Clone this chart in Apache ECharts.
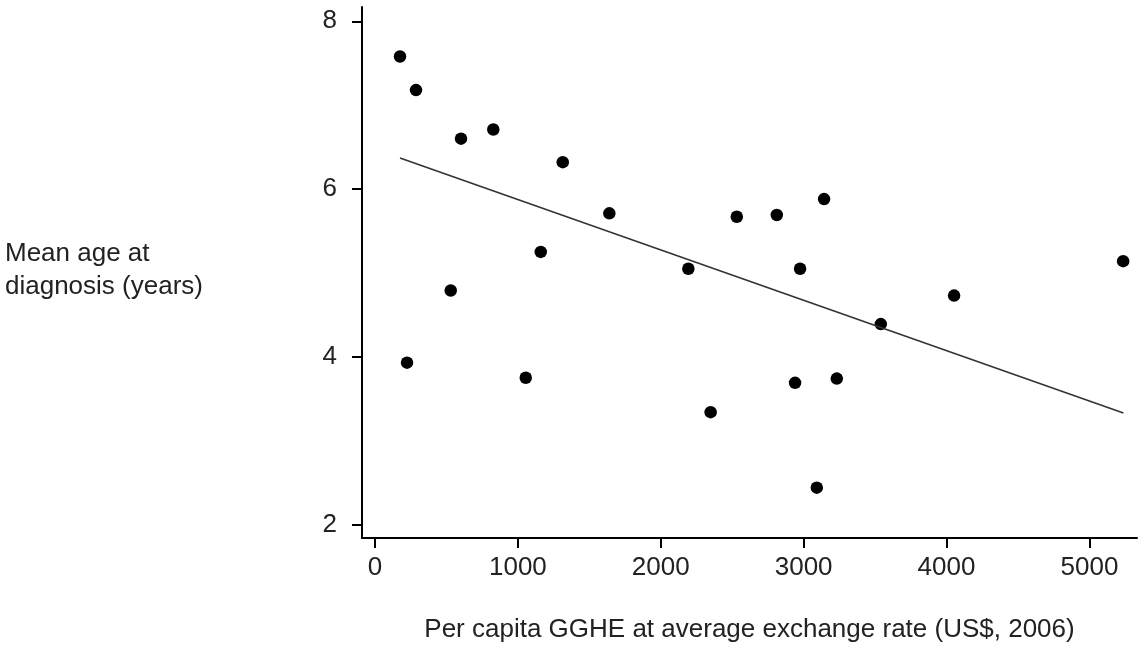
<!DOCTYPE html>
<html>
<head>
<meta charset="utf-8">
<script src="https://cdn.jsdelivr.net/npm/echarts@6/dist/echarts.min.js"></script>
<style>
html,body{margin:0;padding:0;background:#fff;}
#chart{width:1138px;height:648px;}
</style>
</head>
<body>
<div id="chart"></div>
<script>
var gghe = [175, 287, 224, 602, 530, 828, 1055, 1160, 1314, 1640, 2193, 2349, 2532, 2812, 3143, 2975, 2940, 3232, 3092, 3540, 4053, 5236];
var meanAge = [7.58, 7.18, 3.93, 6.60, 4.79, 6.71, 3.75, 5.25, 6.32, 5.71, 5.05, 3.34, 5.67, 5.69, 5.88, 5.05, 3.69, 3.74, 2.44, 4.39, 4.73, 5.14];
var fitX = [175, 5238];
var fitY = [6.37, 3.33];
var xTicks = [0, 1000, 2000, 3000, 4000, 5000];
var yTicks = [2, 4, 6, 8];
var xTitle = 'Per capita GGHE at average exchange rate (US$, 2006)';
var yTitle = 'Mean age at\ndiagnosis (years)';

var points = gghe.map(function (x, i) { return [x, meanAge[i]]; });
var fitLine = fitX.map(function (x, i) { return [x, fitY[i]]; });

var FONT = '"Liberation Sans", Arial, sans-serif';
var chart = echarts.init(document.getElementById('chart'));
chart.setOption({
  animation: false,
  backgroundColor: '#fff',
  grid: { left: 362, top: 7, right: 1, bottom: 107, containLabel: false },
  xAxis: {
    type: 'value', min: -91, max: 5333,
    axisLine: { show: true, onZero: false, lineStyle: { color: '#000', width: 2 } },
    axisTick: { show: true, customValues: xTicks, length: 10, lineStyle: { color: '#000', width: 2 } },
    axisLabel: { customValues: xTicks, formatter: function (v) { return String(v); }, color: '#222', fontSize: 26, fontFamily: FONT, margin: 17 },
    splitLine: { show: false },
    name: xTitle, nameLocation: 'middle', nameGap: 79,
    nameTextStyle: { color: '#222', fontSize: 26, fontFamily: FONT }
  },
  yAxis: {
    type: 'value', min: 1.84, max: 8.17,
    axisLine: { show: true, onZero: false, lineStyle: { color: '#000', width: 2 } },
    axisTick: { show: true, customValues: yTicks, length: 10, lineStyle: { color: '#000', width: 2 } },
    axisLabel: { customValues: yTicks, formatter: function (v) { return String(v); }, color: '#222', fontSize: 26, fontFamily: FONT, margin: 25, padding: [0, 0, 6, 0] },
    splitLine: { show: false }
  },
  graphic: [{
    type: 'text', left: 5, top: 237,
    style: { text: yTitle, fill: '#222', font: '26px ' + FONT, lineHeight: 33 }
  }],
  series: [{
    type: 'scatter', data: points, symbol: 'circle', symbolSize: 12.5,
    itemStyle: { color: '#000', opacity: 1 }
  }, {
    type: 'line', data: fitLine, symbol: 'none',
    lineStyle: { color: '#333', width: 1.6 }
  }]
});
</script>
</body>
</html>
